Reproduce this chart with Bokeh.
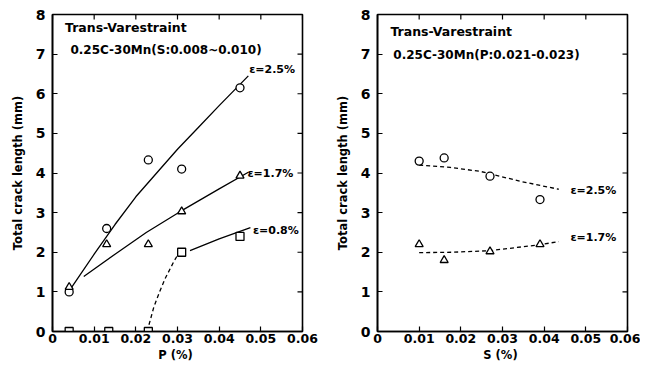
import math
from bokeh.plotting import figure
from bokeh.layouts import row
from bokeh.models import FixedTicker, CustomJSTickFormatter, Label, Range1d
from bokeh.embed import file_html
from bokeh.resources import INLINE

# ---------------- data ----------------
x_ticks = [0, 0.01, 0.02, 0.03, 0.04, 0.05, 0.06]
y_ticks = [0, 1, 2, 3, 4, 5, 6, 7, 8]

# Left panel: total crack length vs P (%)
p_circle = [0.004, 0.013, 0.023, 0.031, 0.045]
l_circle = [1.0, 2.6, 4.33, 4.1, 6.15]
p_tri = [0.004, 0.013, 0.023, 0.031, 0.045]
l_tri = [1.12, 2.2, 2.2, 3.03, 3.93]
p_sq = [0.004, 0.0135, 0.023, 0.031, 0.045]
l_sq = [0.0, 0.0, 0.0, 2.0, 2.4]

# fitted curves
fit25_p = [0.0045, 0.010, 0.015, 0.020, 0.025, 0.030, 0.035, 0.040, 0.047]
fit25_l = [1.1, 1.95, 2.7, 3.4, 4.0, 4.6, 5.15, 5.7, 6.45]
fit17_p = [0.0075, 0.015, 0.0225, 0.0307, 0.040, 0.047]
fit17_l = [1.39, 1.95, 2.5, 3.03, 3.6, 4.02]
fit08_p = [0.033, 0.040, 0.0475]
fit08_l = [2.04, 2.34, 2.62]
fit08d_p = [0.0227, 0.0235, 0.0243, 0.0257, 0.0271, 0.0291, 0.0303]
fit08d_l = [0.0, 0.3, 0.61, 1.0, 1.35, 1.76, 1.98]

# Right panel: total crack length vs S (%)
s_circle = [0.010, 0.016, 0.027, 0.039]
ls_circle = [4.3, 4.38, 3.92, 3.33]
s_tri = [0.010, 0.016, 0.027, 0.039]
ls_tri = [2.2, 1.8, 2.02, 2.2]
fitS25_s = [0.010, 0.0175, 0.0247, 0.0343, 0.0435]
fitS25_l = [4.2, 4.14, 4.04, 3.79, 3.59]
fitS17_s = [0.010, 0.018, 0.027, 0.039, 0.0435]
fitS17_l = [1.99, 2.0, 2.04, 2.19, 2.27]

FONT = "DejaVu Sans"


def base_fig(width, border_left, border_right, xlabel):
    p = figure(width=width, height=364, output_backend="svg", toolbar_location=None,
               x_range=Range1d(x_ticks[0], x_ticks[-1]), y_range=Range1d(y_ticks[0], y_ticks[-1]),
               min_border_left=border_left, min_border_right=border_right,
               min_border_top=14, min_border_bottom=28)
    p.grid.visible = False
    p.outline_line_color = "black"
    p.outline_line_width = 1.6
    p.background_fill_color = "white"
    p.border_fill_color = "white"
    fmt = CustomJSTickFormatter(code="return tick == 0 ? '0' : tick.toFixed(2);")
    xa = p.xaxis[0]
    xa.ticker = FixedTicker(ticks=x_ticks)
    xa.formatter = fmt
    ya = p.yaxis[0]
    ya.ticker = FixedTicker(ticks=y_ticks)
    for ax in (xa, ya):
        ax.major_tick_in = 5
        ax.major_tick_out = 0
        ax.minor_tick_in = 0
        ax.minor_tick_out = 0
        ax.axis_line_width = 1.6
        ax.major_tick_line_width = 1.2
        ax.major_label_text_font = FONT
        ax.major_label_text_font_style = "bold"
        ax.major_label_text_color = "black"
        ax.axis_label_text_font = FONT
        ax.axis_label_text_font_style = "bold"
        ax.axis_label_text_font_size = "11.5px"
        ax.axis_label_text_color = "black"
    xa.major_label_text_font_size = "12.5px"
    ya.major_label_text_font_size = "14px"
    xa.major_label_standoff = 2
    ya.major_label_standoff = 7
    xa.axis_label = xlabel
    xa.axis_label_standoff = 2
    ya.axis_label = "Total crack length (mm)"
    ya.axis_label_standoff = 8
    # inward ticks on the top and right edges of the frame
    p.scatter(x_ticks, [y_ticks[-1]] * len(x_ticks), marker="dash", size=10,
              angle=math.pi / 2, line_color="black", line_width=1.2)
    p.scatter([x_ticks[-1]] * len(y_ticks), y_ticks, marker="dash", size=10,
              line_color="black", line_width=1.2)
    return p


def add_text(p, x, y, txt, size="10.5px", style="bold", anchor="left", baseline="middle"):
    p.add_layout(Label(x=x, y=y, text=txt, text_font=FONT, text_font_size=size,
                       text_font_style=style, text_align=anchor, text_baseline=baseline,
                       text_color="black"))


# ---------------- left panel ----------------
p1 = base_fig(330, 52, 28, "P  (%)")
p1.line(fit25_p, fit25_l, line_color="black", line_width=1.3)
p1.line(fit17_p, fit17_l, line_color="black", line_width=1.3)
p1.line(fit08_p, fit08_l, line_color="black", line_width=1.3)
p1.line(fit08d_p, fit08d_l, line_color="black", line_width=1.3, line_dash="4 3")
p1.scatter(p_circle, l_circle, marker="circle", size=8, fill_color="white",
           line_color="black", line_width=1.3)
p1.scatter(p_tri, l_tri, marker="triangle", size=8, fill_color="white",
           line_color="black", line_width=1.3)
p1.scatter(p_sq, l_sq, marker="square", size=8, fill_color="white",
           line_color="black", line_width=1.3)
add_text(p1, 0.003, 7.68, "Trans-Varestraint", size="12.5px")
add_text(p1, 0.0043, 7.11, "0.25C-30Mn(S:0.008~0.010)", size="12px")
add_text(p1, 0.0472, 6.6, "ε=2.5%", size="11px")
add_text(p1, 0.0468, 4.0, "ε=1.7%", size="11px")
add_text(p1, 0.0481, 2.54, "ε=0.8%", size="11px")

# ---------------- right panel ----------------
p2 = base_fig(310, 47, 13, "S  (%)")
p2.line(fitS25_s, fitS25_l, line_color="black", line_width=1.3, line_dash="4 3")
p2.line(fitS17_s, fitS17_l, line_color="black", line_width=1.3, line_dash="4 3")
p2.scatter(s_circle, ls_circle, marker="circle", size=8, fill_color="white",
           line_color="black", line_width=1.3)
p2.scatter(s_tri, ls_tri, marker="triangle", size=8, fill_color="white",
           line_color="black", line_width=1.3)
add_text(p2, 0.0031, 7.56, "Trans-Varestraint", size="12.5px")
add_text(p2, 0.0038, 6.99, "0.25C-30Mn(P:0.021-0.023)", size="12px")
add_text(p2, 0.0463, 3.55, "ε=2.5%", size="11px")
add_text(p2, 0.0463, 2.36, "ε=1.7%", size="11px")

layout = row(p1, p2)
open("out.html", "w").write(file_html(layout, INLINE))
